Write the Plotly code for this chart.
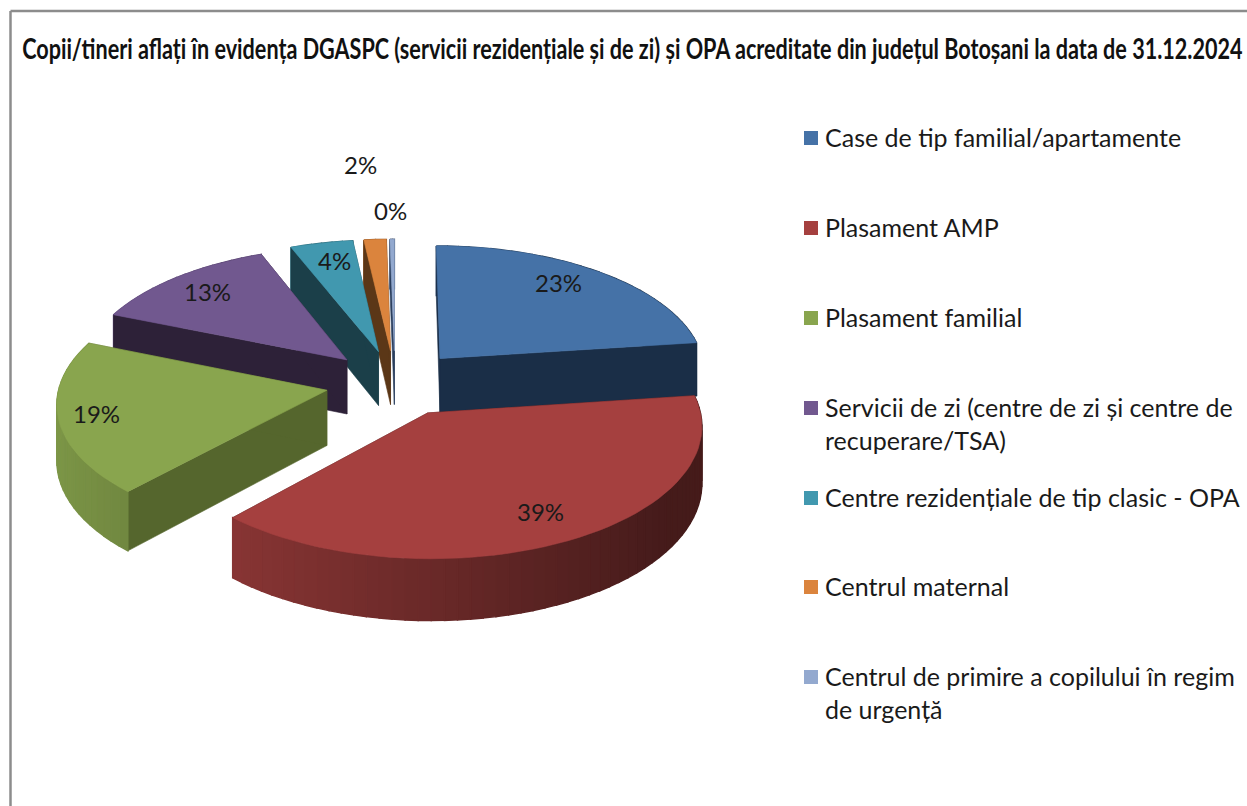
import math
import plotly.graph_objects as go

# ---- data ----
categories = [
    "Case de tip familial/apartamente",
    "Plasament AMP",
    "Plasament familial",
    "Servicii de zi (centre de zi și centre de<br>recuperare/TSA)",
    "Centre rezidențiale de tip clasic - OPA",
    "Centrul maternal",
    "Centrul de primire a copilului în regim<br>de urgență",
]
values = [22.9, 38.9, 19.4, 12.8, 4.2, 1.5, 0.3]
value_labels = ["23%", "39%", "19%", "13%", "4%", "2%", "0%"]
title = ("Copii/tineri aflați în evidența DGASPC (servicii rezidențiale și de zi) "
         "și OPA acreditate din județul Botoșani la data de 31.12.2024")

# ---- styles ----
top_colors = ["#4572A7", "#A5403F", "#89A54E", "#71588F", "#4198AF", "#DB843D", "#93A9CF"]
cut_colors = ["#1A2E47", "#451A17", "#55662D", "#2D2138", "#1B3F49", "#5B3717", "#2C3F5E"]
label_xy = [(558, 282), (540, 511), (96, 413), (207, 291), (334, 260), (360, 164), (390, 210)]
legend_y = [138, 228, 318, 408, 498, 587, 677]
paint_order = [6, 5, 4, 3, 0, 2, 1]

# ---- projection of an exploded, tilted pie onto the page ----
CX, CY, A, B, EXPLODE, PERSP, DEPTH = 395, 383, 267, 127, 0.26, 0.09, 55


def project(u, v, drop=0.0):
    s = 1 / (1 + PERSP * v)
    return CX + A * u * s, CY - B * v * s + drop * s


def shade(hex_color, f):
    r, g, b = (int(hex_color[i:i + 2], 16) for i in (1, 3, 5))
    return f"rgb({r * f:.0f},{g * f:.0f},{b * f:.0f})"


def polygon(fig, pts, color, lw=0.6):
    xs, ys = zip(*pts)
    fig.add_trace(go.Scatter(
        x=list(xs) + [xs[0]], y=list(ys) + [ys[0]], mode="lines", fill="toself",
        fillcolor=color, line=dict(color=color, width=lw),
        hoverinfo="skip", showlegend=False))


fig = go.Figure()
total = sum(values)
starts, acc = [], 0.0
for val in values:
    starts.append(acc / total * 2 * math.pi)
    acc += val

for i in paint_order:
    a0 = starts[i]
    a1 = a0 + values[i] / total * 2 * math.pi
    mid = (a0 + a1) / 2
    ou, ov = EXPLODE * math.sin(mid), EXPLODE * math.cos(mid)

    def rim(t):
        return ou + math.sin(t), ov + math.cos(t)

    n = max(2, int(math.degrees(a1 - a0) / 2.5))
    angles = [a0 + (a1 - a0) * k / n for k in range(n + 1)]

    def rim_segment(t0, t1):
        p0, p1 = rim(t0), rim(t1)
        f = max(0.42, 0.64 - 0.27 * math.sin((t0 + t1) / 2))
        polygon(fig, [project(*p0), project(*p1), project(*p1, DEPTH), project(*p0, DEPTH)],
                shade(top_colors[i], f), lw=1.4)

    segs = list(zip(angles[:-1], angles[1:]))
    front = [s for s in segs if math.radians(85) < (s[0] + s[1]) / 2 < math.radians(285)]
    back = [s for s in segs if s not in front]
    for s in back:
        rim_segment(*s)
    for t in (a0, a1):
        p = rim(t)
        polygon(fig, [project(ou, ov), project(*p), project(*p, DEPTH), project(ou, ov, DEPTH)],
                cut_colors[i])
    for s in front:
        rim_segment(*s)
    polygon(fig, [project(ou, ov)] + [project(*rim(t)) for t in angles], top_colors[i])

# legend squares
fig.add_trace(go.Scatter(
    x=[811] * len(categories), y=legend_y, mode="markers",
    marker=dict(symbol="square", size=14, color=top_colors, line=dict(width=0)),
    hoverinfo="skip", showlegend=False))

annotations = [dict(x=632, y=47, text=f"<b>{title}</b>", showarrow=False,
                    font=dict(family="Lato", size=29, color="#111111"),
                    xanchor="center", yanchor="middle")]
for (x, y), t in zip(label_xy, value_labels):
    annotations.append(dict(x=x, y=y, text=t, showarrow=False,
                            font=dict(family="Lato", size=24, color="#1a1a1a"),
                            xanchor="center", yanchor="middle"))
for cat, y in zip(categories, legend_y):
    annotations.append(dict(x=823, y=y - 18, text=cat, showarrow=False, align="left",
                            font=dict(family="Lato", size=25, color="#1a1a1a"),
                            xanchor="left", yanchor="top"))

shapes = [
    dict(type="line", x0=10.5, x1=1247, y0=11, y1=11, line=dict(color="#8c8c8c", width=2.5)),
    dict(type="line", x0=10.5, x1=10.5, y0=11, y1=806, line=dict(color="#8c8c8c", width=2.5)),
]

fig.update_layout(
    width=1247, height=806, margin=dict(l=0, r=0, t=0, b=0),
    paper_bgcolor="white", plot_bgcolor="white", showlegend=False,
    annotations=annotations, shapes=shapes,
    xaxis=dict(range=[0, 1247], visible=False, fixedrange=True),
    yaxis=dict(range=[806, 0], visible=False, fixedrange=True),
)
# the title is a condensed face in the reference: narrow the real text to its width
squeeze_title = """
document.body.style.margin='0';document.body.style.overflow='hidden';
var t=document.querySelector('.annotation-text');
if(t){var b=t.getBBox();var c=b.x+b.width/2;var s=1221/b.width;
t.setAttribute('transform','translate('+c+',0) scale('+s+',1) translate('+(-c)+',0)');}
"""
fig.write_html("out.html", config=dict(displayModeBar=False), post_script=squeeze_title)
